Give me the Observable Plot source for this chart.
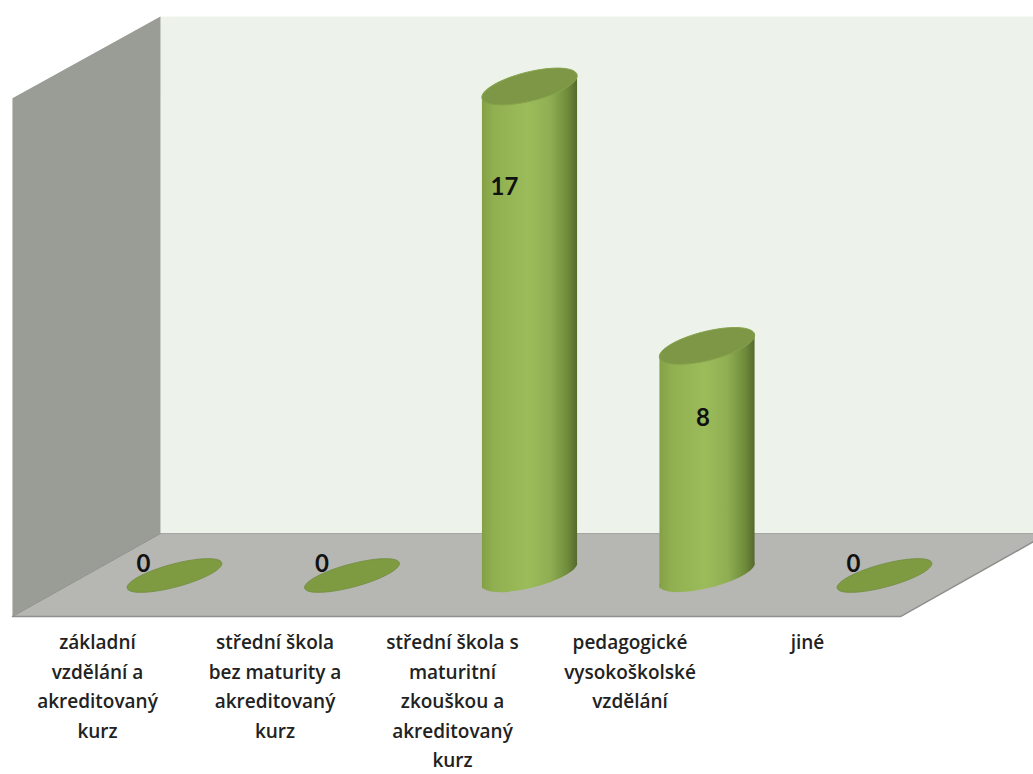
<!DOCTYPE html>
<html lang="cs">
<head>
<meta charset="utf-8">
<title>Vzdělání</title>
<script src="https://cdn.jsdelivr.net/npm/d3@7"></script>
<script src="https://cdn.jsdelivr.net/npm/@observablehq/plot@0.6"></script>
<style>
  html, body { margin: 0; background: #fff; }
  svg { display: block; }
</style>
</head>
<body>
<div id="chart"></div>
<script>
// Chart data
const categories = [
  "základní\nvzdělání a\nakreditovaný\nkurz",
  "střední škola\nbez maturity a\nakreditovaný\nkurz",
  "střední škola s\nmaturitní\nzkouškou a\nakreditovaný\nkurz",
  "pedagogické\nvysokoškolské\nvzdělání",
  "jiné"
];
const counts = [0, 0, 17, 8, 0];

// Where each count label sits, in axis units
const labelHeights = [0.42, 0.42, 13.5, 5.5, 0.42];
const labelShifts = [-31, -30, -25, -4, -31];

// The room around the columns, in axis units (x = category index, y = count)
const backWall = [[-0.079, 1.49], [-0.079, 19.43], [4.84, 19.43], [4.84, 1.49]];
const sideWall = [[-0.913, -1.39], [-0.913, 16.59], [-0.079, 19.43], [-0.079, 1.49]];
const floor = [[-0.913, -1.39], [-0.079, 1.49], [4.84, 1.49], [4.84, 1.21], [4.09, -1.39]];
const floorEdge = [[-0.913, -1.39], [4.09, -1.39], [4.84, 1.21]];
const floorBack = [[-0.079, 1.49], [4.84, 1.49]];
const floorSide = [[-0.913, -1.39], [-0.079, 1.49]];

const halfWidth = 0.268;
const tilt = 0.416;

// Tilted ellipse used for the caps and the zero-height discs
function tiltedEllipse(rx, ry, degrees) {
  const a = degrees * Math.PI / 180, k = 0.5523;
  const p = (u, v) => [u * Math.cos(a) - v * Math.sin(a), u * Math.sin(a) + v * Math.cos(a)];
  return {
    draw(ctx) {
      ctx.moveTo(...p(rx, 0));
      ctx.bezierCurveTo(...p(rx, k * ry), ...p(k * rx, ry), ...p(0, ry));
      ctx.bezierCurveTo(...p(-k * rx, ry), ...p(-rx, k * ry), ...p(-rx, 0));
      ctx.bezierCurveTo(...p(-rx, -k * ry), ...p(-k * rx, -ry), ...p(0, -ry));
      ctx.bezierCurveTo(...p(k * rx, -ry), ...p(rx, -k * ry), ...p(rx, 0));
      ctx.closePath();
    }
  };
}

const rows = counts.map((count, i) => ({i, count}));
const standing = rows.filter((d) => d.count > 0);
const flat = rows.filter((d) => d.count === 0);

// Side surface of each column as a sheared quadrilateral
const bodies = standing.flatMap(({i, count}) => [
  {i, x: i - halfWidth, y: -tilt},
  {i, x: i + halfWidth, y: tilt},
  {i, x: i + halfWidth, y: count + tilt},
  {i, x: i - halfWidth, y: count - tilt}
]);

const polygon = (pts, fill) => Plot.line(pts, {x: "0", y: "1", fill, stroke: "none"});
const edge = (pts, stroke, strokeWidth) => Plot.line(pts, {x: "0", y: "1", stroke, strokeWidth});

const gradients = () => {
  const defs = d3.create("svg:defs");
  const grad = defs.append("linearGradient").attr("id", "column-side");
  [[0, "#84a046"], [0.12, "#90af50"], [0.48, "#9cbc5b"], [0.72, "#8fae52"], [0.9, "#6f8b3b"], [1, "#55692d"]]
    .forEach(([o, c]) => grad.append("stop").attr("offset", o).attr("stop-color", c));
  return defs.node();
};

const chart = Plot.plot({
  width: 1033,
  height: 774,
  marginTop: 0,
  marginLeft: 0,
  marginRight: 0,
  marginBottom: 151,
  style: {background: "#fff", fontFamily: "Lato, sans-serif"},
  x: {domain: [0, 4], range: [174, 884], axis: null},
  y: {domain: [0, 17], range: [576, 86], axis: null},
  marks: [
    gradients,
    polygon(backWall, "#edf3ea"),
    polygon(sideWall, "#9a9c96"),
    polygon(floor, "#b6b7b3"),
    edge(floorEdge, "#8f908d", 1.5),
    edge(floorBack, "#a3a5a0", 1),
    edge(floorSide, "#8f908d", 1),
    // Flat discs for the categories with no responses
    Plot.dot(flat, {
      x: "i", y: "count", dy: -1,
      symbol: tiltedEllipse(49, 11.5, -15),
      fill: "#7f9b42", stroke: "#6f8a39", strokeWidth: 0.8
    }),
    // Rounded foot, column side, then the top cap
    Plot.dot(standing, {
      x: "i", y: 0, dy: -2,
      symbol: tiltedEllipse(49, 13.5, -14),
      fill: "url(#column-side)"
    }),
    Plot.line(bodies, {x: "x", y: "y", z: "i", fill: "url(#column-side)", stroke: "none"}),
    Plot.dot(standing, {
      x: "i", y: "count",
      symbol: tiltedEllipse(49, 14.5, -14),
      fill: "#7d9747", stroke: "#86a34c", strokeWidth: 1
    }),
    // Count labels
    ...rows.map((d) => Plot.text([d], {
      x: "i",
      y: labelHeights[d.i],
      dx: labelShifts[d.i],
      text: (r) => String(r.count),
      fontSize: 24, fontWeight: 700, fill: "#111"
    })),
    // Category labels, set down and to the left of the columns
    Plot.axisX({
      ticks: [0, 1, 2, 3, 4],
      tickFormat: (i) => categories[i],
      tickSize: 0,
      tickPadding: 5,
      dx: -77,
      fontFamily: "Open Sans, sans-serif",
      fontSize: 19,
      fontWeight: 600,
      lineHeight: 1.55,
      fill: "#222",
      textAnchor: "middle",
      lineAnchor: "top",
      label: null
    })
  ]
});

document.getElementById("chart").append(chart);
</script>
</body>
</html>
